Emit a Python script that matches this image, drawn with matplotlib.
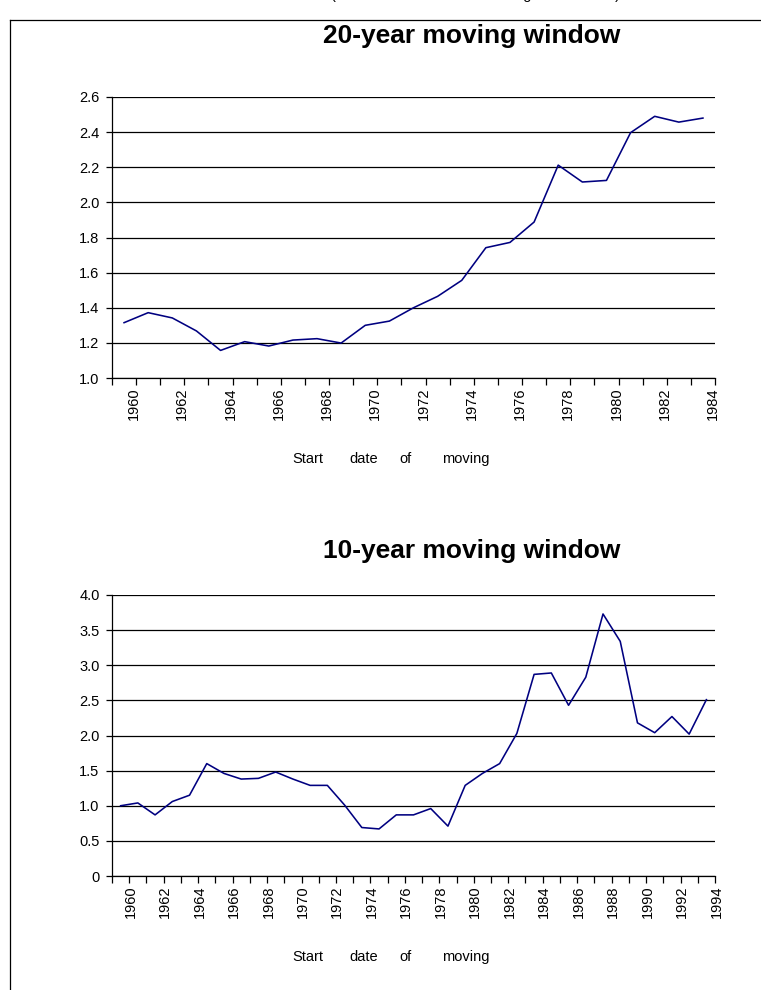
import matplotlib
matplotlib.use("Agg")
import matplotlib.pyplot as plt
import matplotlib.transforms as mtransforms
from matplotlib.lines import Line2D
from matplotlib.ticker import FixedLocator, FuncFormatter

plt.rcParams['font.family'] = ['Liberation Sans', 'DejaVu Sans']

# ---------------- data ----------------
years_20 = [1960, 1961, 1962, 1963, 1964, 1965, 1966, 1967, 1968, 1969,
            1970, 1971, 1972, 1973, 1974, 1975, 1976, 1977, 1978, 1979,
            1980, 1981, 1982, 1983, 1984]
values_20 = [1.315, 1.372, 1.342, 1.268, 1.157, 1.207, 1.182, 1.216, 1.224, 1.199,
             1.300, 1.324, 1.400, 1.465, 1.556, 1.742, 1.772, 1.888, 2.212, 2.116,
             2.125, 2.397, 2.490, 2.457, 2.480]

years_10 = [1960, 1961, 1962, 1963, 1964, 1965, 1966, 1967, 1968, 1969,
            1970, 1971, 1972, 1973, 1974, 1975, 1976, 1977, 1978, 1979,
            1980, 1981, 1982, 1983, 1984, 1985, 1986, 1987, 1988, 1989,
            1990, 1991, 1992, 1993, 1994]
values_10 = [1.00, 1.04, 0.87, 1.06, 1.15, 1.60, 1.46, 1.38, 1.39, 1.48,
             1.38, 1.29, 1.29, 1.01, 0.69, 0.67, 0.87, 0.87, 0.96, 0.71,
             1.29, 1.46, 1.60, 2.03, 2.87, 2.89, 2.43, 2.83, 3.73, 3.34,
             2.18, 2.04, 2.27, 2.02, 2.51]

labels_20 = [1960, 1962, 1964, 1966, 1968, 1970, 1972, 1974, 1976, 1978, 1980, 1982, 1984]
labels_10 = [1960, 1962, 1964, 1966, 1968, 1970, 1972, 1974, 1976, 1978, 1980, 1982,
             1984, 1986, 1988, 1990, 1992, 1994]

yticks_20 = [1.0, 1.2, 1.4, 1.6, 1.8, 2.0, 2.2, 2.4, 2.6]
yticks_10 = [0.0, 0.5, 1.0, 1.5, 2.0, 2.5, 3.0, 3.5, 4.0]

title_20 = "20-year moving window"
title_10 = "10-year moving window"
xlabel_words = ["Start", "date", "of", "moving"]
top_words = ["(Start", "date", "of", "moving", "window)"]

# ---------------- layout ----------------
W, H = 761, 990
fig = plt.figure(figsize=(W / 100, H / 100), dpi=100)


def fx(px):
    return px / W


def fy(py):
    return 1 - py / H


# border (partially visible frame)
fig.add_artist(Line2D([fx(10), fx(10)], [fy(19.5), fy(H)], color='black', lw=0.9,
                      transform=fig.transFigure))
fig.add_artist(Line2D([fx(10), fx(W)], [fy(19.5), fy(19.5)], color='black', lw=0.9,
                      transform=fig.transFigure))

# text line above the frame, cut off by the top edge (only its bottom shows)
for word, cx in zip(top_words, [348, 406, 452, 508, 593]):
    fig.text(fx(cx), fy(-0.5), word, ha='center', va='baseline', fontsize=10.5,
             color='black')

TICK_FS = 10.5
LINE_COLOR = '#000080'


def fmt_y(v, pos):
    if abs(v) < 1e-9:
        return "0"
    return f"{v:.1f}"


def make_panel(top_px, years, values, labels, yticks, title, title_baseline_px,
               label_dx_px):
    bottom_px = top_px + 281
    ax = fig.add_axes([fx(112), fy(bottom_px), fx(715) - fx(112),
                       (bottom_px - top_px) / H])
    ax.plot(years, values, color=LINE_COLOR, lw=1.15, zorder=3)
    ax.set_xlim(years[0] - 0.5, years[-1] + 0.5)
    ax.set_ylim(yticks[0], yticks[-1])

    for s in ['top', 'right']:
        ax.spines[s].set_visible(False)
    for s in ['left', 'bottom']:
        ax.spines[s].set_color('black')
        ax.spines[s].set_linewidth(0.9)

    ax.yaxis.set_major_locator(FixedLocator(yticks))
    ax.yaxis.set_major_formatter(FuncFormatter(fmt_y))
    ax.tick_params(axis='y', direction='out', length=4, width=0.9, pad=5,
                   labelsize=TICK_FS, colors='black')
    ax.grid(axis='y', color='black', lw=0.9, zorder=1)
    ax.set_axisbelow(True)

    # category boundary ticks
    bounds = [y - 0.5 for y in years] + [years[-1] + 0.5]
    ax.xaxis.set_minor_locator(FixedLocator(bounds))
    ax.xaxis.set_major_locator(FixedLocator(labels))
    ax.set_xticklabels([str(l) for l in labels], rotation=90)
    ax.tick_params(axis='x', which='major', length=0, pad=7, labelsize=TICK_FS)
    ax.tick_params(axis='x', which='minor', direction='out', length=5, width=0.9)
    off = mtransforms.ScaledTranslation(label_dx_px / 100, 0, fig.dpi_scale_trans)
    for lab in ax.get_xticklabels():
        lab.set_transform(lab.get_transform() + off)

    fig.text(fx(472), fy(title_baseline_px), title, ha='center', va='baseline',
             fontsize=19, fontweight='bold')

    for word, cx in zip(xlabel_words, [307.5, 363.5, 405, 465.5]):
        fig.text(fx(cx), fy(bottom_px + 85), word, ha='center', va='baseline',
                 fontsize=10.5)
    return ax


make_panel(97, years_20, values_20, labels_20, yticks_20, title_20, 43, 10)
make_panel(595, years_10, values_10, labels_10, yticks_10, title_10, 558, 10)

fig.savefig("out.png", dpi=100)
